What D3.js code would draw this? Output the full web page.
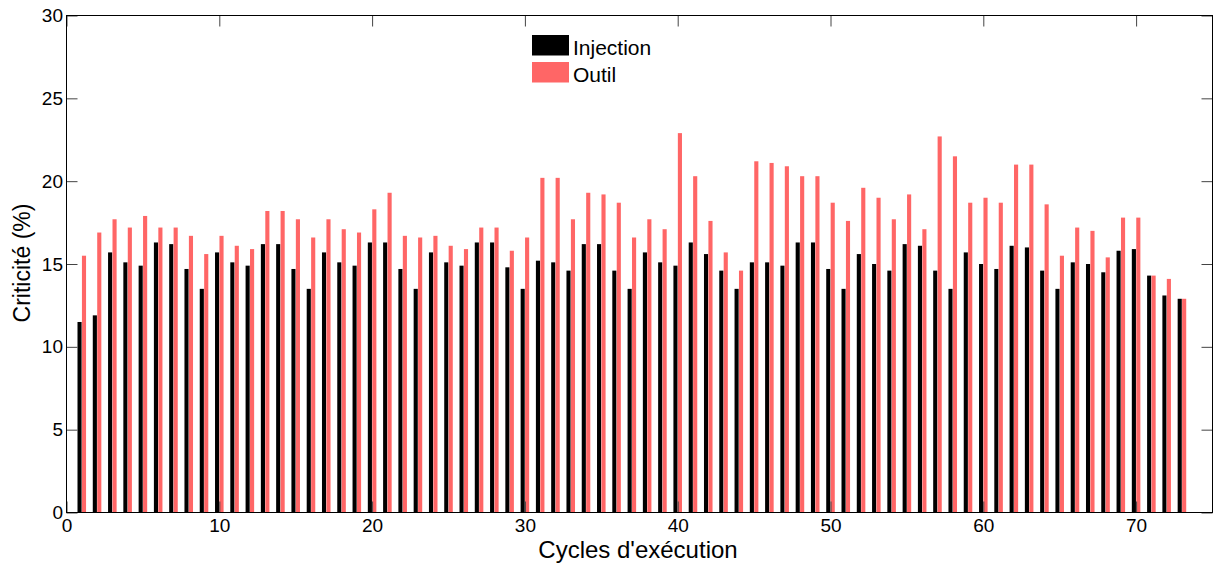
<!DOCTYPE html>
<html>
<head>
<meta charset="utf-8">
<script src="https://cdn.jsdelivr.net/npm/d3@7"></script>
<style>
  html, body { margin: 0; padding: 0; background: #fff; }
  svg { display: block; font-family: "Liberation Sans", Arial, Helvetica, sans-serif; }
</style>
</head>
<body>
<svg id="chart" width="1214" height="564"></svg>
<script>
const cycles = [1,2,3,4,5,6,7,8,9,10,11,12,13,14,15,16,17,18,19,20,21,22,23,24,25,26,27,28,29,30,31,32,33,34,35,36,37,38,39,40,41,42,43,44,45,46,47,48,49,50,51,52,53,54,55,56,57,58,59,60,61,62,63,64,65,66,67,68,69,70,71,72,73];
const injection = [11.5,11.9,15.7,15.1,14.9,16.3,16.2,14.7,13.5,15.7,15.1,14.9,16.2,16.2,14.7,13.5,15.7,15.1,14.9,16.3,16.3,14.7,13.5,15.7,15.1,14.9,16.3,16.3,14.8,13.5,15.2,15.1,14.6,16.2,16.2,14.6,13.5,15.7,15.1,14.9,16.3,15.6,14.6,13.5,15.1,15.1,14.9,16.3,16.3,14.7,13.5,15.6,15.0,14.6,16.2,16.1,14.6,13.5,15.7,15.0,14.7,16.1,16.0,14.6,13.5,15.1,15.0,14.5,15.8,15.9,14.3,13.1,12.9];
const outil = [15.5,16.9,17.7,17.2,17.9,17.2,17.2,16.7,15.6,16.7,16.1,15.9,18.2,18.2,17.7,16.6,17.7,17.1,16.9,18.3,19.3,16.7,16.6,16.7,16.1,15.9,17.2,17.2,15.8,16.6,20.2,20.2,17.7,19.3,19.2,18.7,16.6,17.7,17.1,22.9,20.3,17.6,15.7,14.6,21.2,21.1,20.9,20.3,20.3,18.7,17.6,19.6,19.0,17.7,19.2,17.1,22.7,21.5,18.7,19.0,18.7,21.0,21.0,18.6,15.5,17.2,17.0,15.4,17.8,17.8,14.3,14.1,12.9];
const xTicks = [0,10,20,30,40,50,60,70];
const yTicks = [0,5,10,15,20,25,30];
const seriesNames = ["Injection", "Outil"];
const seriesColors = ["#000000", "#ff6666"];
const xLabel = "Cycles d'exécution";
const yLabel = "Criticité (%)";

const svg = d3.select("#chart");
const L = 66.5, R = 1212.5, T = 15.5, B = 512.5;
const x = d3.scaleLinear().domain([0, 75]).range([L, R]);
const y = d3.scaleLinear().domain([0, 30]).range([B, T]);

const barW = 0.27;
const offsets = [-0.28, 0.01];
const series = [injection, outil];

series.forEach((vals, si) => {
  svg.append("g").selectAll("rect")
    .data(cycles.map((c, i) => ({c, v: vals[i]})))
    .join("rect")
    .attr("x", d => x(d.c + offsets[si]))
    .attr("width", d => x(d.c + offsets[si] + barW) - x(d.c + offsets[si]))
    .attr("y", d => y(d.v))
    .attr("height", d => y(0) - y(d.v))
    .attr("fill", seriesColors[si]);
});

const tickLen = 11;
function styleAxis(g, showLabels) {
  g.select(".domain").remove();
  g.selectAll(".tick line").attr("stroke", "#444").attr("stroke-width", 1);
  g.selectAll(".tick text").attr("fill", "#000").style("font-size", "19px")
    .style("font-family", "'Liberation Sans', Arial, sans-serif");
  if (!showLabels) g.selectAll(".tick text").remove();
}

svg.append("g").attr("transform", `translate(0,${B})`)
  .call(d3.axisBottom(x).tickValues(xTicks).tickSize(-tickLen).tickPadding(6).tickFormat(d3.format("d")))
  .call(g => styleAxis(g, true));
svg.append("g").attr("transform", `translate(0,${T})`)
  .call(d3.axisTop(x).tickValues(xTicks).tickSize(-tickLen))
  .call(g => styleAxis(g, false));
svg.append("g").attr("transform", `translate(${L},0)`)
  .call(d3.axisLeft(y).tickValues(yTicks).tickSize(-tickLen).tickPadding(3.5).tickFormat(d3.format("d")))
  .call(g => styleAxis(g, true));
svg.append("g").attr("transform", `translate(${R},0)`)
  .call(d3.axisRight(y).tickValues(yTicks).tickSize(-tickLen))
  .call(g => styleAxis(g, false));

svg.append("rect")
  .attr("x", L).attr("y", T).attr("width", R - L).attr("height", B - T)
  .attr("fill", "none").attr("stroke", "#000").attr("stroke-width", 1);

// Legend
const leg = svg.append("g");
const legY = [35, 62];
seriesNames.forEach((name, i) => {
  leg.append("rect").attr("x", 532).attr("y", legY[i]).attr("width", 37).attr("height", 20.5)
    .attr("fill", seriesColors[i]);
  leg.append("text").attr("x", 573).attr("y", legY[i] + 19.5)
    .style("font-size", "21px").attr("fill", "#000").text(name);
});

svg.append("text").attr("x", 638).attr("y", 558).attr("text-anchor", "middle")
  .style("font-size", "24px").attr("fill", "#000").text(xLabel);
svg.append("text").attr("transform", "translate(29.5,263) rotate(-90)").attr("text-anchor", "middle")
  .style("font-size", "23px").attr("fill", "#000").text(yLabel);
</script>
</body>
</html>
